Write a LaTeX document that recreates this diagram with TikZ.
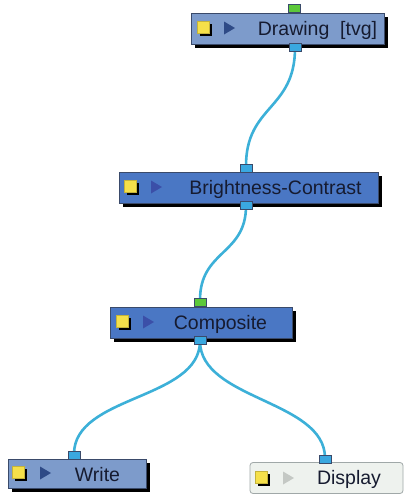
\documentclass[tikz,border=0pt]{standalone}
\usepackage{fontspec}
\setmainfont{Liberation Sans}
\usetikzlibrary{shadows}
\definecolor{lightbox}{HTML}{7D9BCB}
\definecolor{darkbox}{HTML}{4A77C4}
\definecolor{boxedge}{HTML}{3A4A6A}
\definecolor{dispfill}{HTML}{EEF2EE}
\definecolor{dispedge}{HTML}{A0A8A8}
\definecolor{iconyellow}{HTML}{F5E04A}
\definecolor{tridark}{HTML}{2E4A86}
\definecolor{triblue}{HTML}{3B4FA8}
\definecolor{trigray}{HTML}{C4C8C4}
\definecolor{wirecol}{HTML}{3CB0D8}
\definecolor{portblue}{HTML}{3AA8E0}
\definecolor{portgreen}{HTML}{5CC83A}
\definecolor{txtcol}{HTML}{161B30}
\tikzset{
  modbox/.style={draw=boxedge, line width=0.8pt, inner sep=0pt, minimum height=31pt,
    drop shadow={shadow xshift=4pt, shadow yshift=-4pt, fill=black, opacity=1}},
  dispbox/.style={draw=dispedge, line width=0.8pt, inner sep=0pt, minimum height=31pt, rounded corners=3pt, fill=dispfill},
  icon/.style={fill=iconyellow, draw=iconyellow!80!black, line width=0.3pt, minimum size=11.5pt, inner sep=0pt,
    drop shadow={shadow xshift=3pt, shadow yshift=-3pt, fill=black, opacity=1}},
  lbl/.style={font=\fontsize{19.5}{22}\selectfont, text=txtcol, inner sep=0pt},
  port/.style={draw=boxedge, line width=0.6pt, minimum width=12pt, minimum height=8pt, inner sep=0pt},
  wire/.style={draw=wirecol, line width=2.6pt},
}
\begin{document}
\begin{tikzpicture}[x=1pt,y=-1pt]
\useasboundingbox (0,0) rectangle (404,496);
\fill[white] (0,0) rectangle (404,496);

% wires first (behind)
\coordinate (d1) at (295,48);
\coordinate (b1) at (246,166);
\coordinate (b2) at (246,206);
\coordinate (c1) at (200,300);
\coordinate (c2) at (200,341);
\coordinate (w1) at (74,454);
\coordinate (p1) at (325,458);
\draw[wire] (d1) .. controls (295,110) and (246,105) .. (b1);
\draw[wire] (b2) .. controls (246,255) and (200,250) .. (c1);
\draw[wire] (c2) .. controls (200,400) and (74,395) .. (w1);
\draw[wire] (c2) .. controls (200,400) and (325,400) .. (p1);

% Drawing
\node[modbox, fill=lightbox, minimum width=193pt] (drawing) at (287.5,28.5) {};
\node[icon] (drawingicon) at (203,27) {};
\fill[tridark] (224,21.5) -- (235,28) -- (224,34.5) -- cycle;
\node[lbl] (drawingtxt) at (317.5,30) {Drawing\ \ [tvg]};
\node[port, fill=portgreen] (drawingin) at (294,8.5) {};
\node[port, fill=portblue] (drawingout) at (295,47) {};

% Brightness-Contrast
\node[modbox, fill=darkbox, minimum width=259pt] (bc) at (248.5,187.5) {};
\node[icon] (bcicon) at (130,186) {};
\fill[triblue] (151,180.5) -- (162,187) -- (151,193.5) -- cycle;
\node[lbl] (bctxt) at (275.5,189) {Brightness-Contrast};
\node[port, fill=portblue] (bcin) at (246,168) {};
\node[port, fill=portblue] (bcout) at (246,205.5) {};

% Composite
\node[modbox, fill=darkbox, minimum width=182pt] (comp) at (201,322.5) {};
\node[icon] (compicon) at (122,321) {};
\fill[triblue] (143,315.5) -- (154,322) -- (143,328.5) -- cycle;
\node[lbl] (comptxt) at (220.5,324) {Composite};
\node[port, fill=portgreen] (compin) at (200,302.5) {};
\node[port, fill=portblue] (compout) at (200,340) {};

% Write
\node[modbox, fill=lightbox, minimum width=138pt, minimum height=29pt] (write) at (77,473.5) {};
\node[icon] (writeicon) at (18,472) {};
\fill[tridark] (40,466.5) -- (51,473) -- (40,479.5) -- cycle;
\node[lbl] (writetxt) at (97.5,475) {Write};
\node[port, fill=portblue] (writein) at (74,455.5) {};

% Display
\node[dispbox, minimum width=153pt] (disp) at (326.5,478) {};
\node[icon] (dispicon) at (261,477) {};
\fill[trigray] (283,471.5) -- (294,478) -- (283,484.5) -- cycle;
\node[lbl] (disptxt) at (349,479) {Display};
\node[port, fill=portblue] (dispin) at (325,459) {};
\end{tikzpicture}
\end{document}
